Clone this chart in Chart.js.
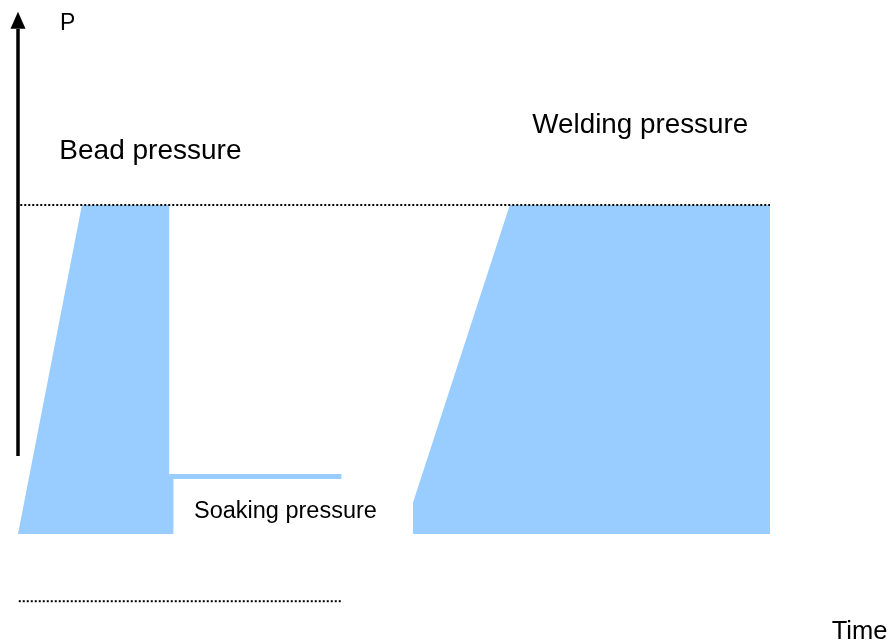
<!DOCTYPE html>
<html>
<head>
<meta charset="utf-8">
<script src="https://cdn.jsdelivr.net/npm/chart.js@4/dist/chart.umd.min.js"></script>
<style>
  html, body { margin: 0; padding: 0; background: #fff; }
  #wrap { width: 894px; height: 643px; }
</style>
</head>
<body>
<div id="wrap"><canvas id="pressureChart" width="894" height="643"></canvas></div>
<script>
// time in arbitrary units (0 = start, 100 = end of welding), pressure in % of welding pressure
var beadTime = [0, 8.5, 20.1, 20.1, 20.7, 20.7];
var beadPressure = [0, 100, 100, 17.5, 17.5, 0];
var soakTime = [20.1, 43];
var soakPressure = [17.5, 17.5];
var weldTime = [52.5, 52.5, 65.4, 100, 100];
var weldPressure = [0, 9.4, 100, 100, 0];
var refTime = [0.3, 100];
var refPressure = [100, 100];
var dragTime = [0.1, 43];
var dragPressure = [-20.4, -20.4];
var axisTime = [0, 0];
var axisPressure = [23.7, 153.5];
var axisTip = 158.7;

function pts(xs, ys) {
  return xs.map(function (x, i) { return { x: x, y: ys[i] }; });
}

// text placed in data coordinates (left edge, baseline)
var labels = [
  { text: 'P', x: 5.6, y: 153.1, size: 23 },
  { text: 'Bead pressure', x: 5.5, y: 113.9, size: 28 },
  { text: 'Welding pressure', x: 68.4, y: 121.8, size: 27.8 },
  { text: 'Soaking pressure', x: 23.4, y: 4.8, size: 23.5 },
  { text: 'Time', x: 108.2, y: -31.8, size: 25.5 }
];

var blue = '#99ccff';

var decor = {
  id: 'decor',
  afterDatasetsDraw: function (chart) {
    var ctx = chart.ctx;
    var xs = chart.scales.x, ys = chart.scales.y;
    // arrow head on the pressure axis
    var tx = xs.getPixelForValue(0), ty = ys.getPixelForValue(axisTip);
    ctx.save();
    ctx.fillStyle = '#000';
    ctx.beginPath();
    ctx.moveTo(tx, ty);
    ctx.lineTo(tx + 7.5, ty + 17);
    ctx.lineTo(tx - 7.5, ty + 17);
    ctx.closePath();
    ctx.fill();
    labels.forEach(function (l) {
      ctx.font = l.size + 'px "Liberation Sans", Arial, sans-serif';
      ctx.textBaseline = 'alphabetic';
      ctx.textAlign = 'left';
      ctx.fillText(l.text, xs.getPixelForValue(l.x), ys.getPixelForValue(l.y));
    });
    ctx.restore();
  }
};

new Chart(document.getElementById('pressureChart'), {
  type: 'scatter',
  data: {
    datasets: [
      { data: pts(refTime, refPressure), showLine: true, borderColor: '#000', borderWidth: 2, borderDash: [2, 2], pointRadius: 0, fill: false },
      { data: pts(dragTime, dragPressure), showLine: true, borderColor: '#000', borderWidth: 2, borderDash: [2, 2], pointRadius: 0, fill: false },
      { data: pts(axisTime, axisPressure), showLine: true, borderColor: '#000', borderWidth: 3.5, pointRadius: 0, fill: false },
      { data: pts(soakTime, soakPressure), showLine: true, borderColor: blue, borderWidth: 5, borderCapStyle: 'butt', pointRadius: 0, fill: false },
      { data: pts(beadTime, beadPressure), showLine: true, borderWidth: 0, borderColor: blue, backgroundColor: blue, pointRadius: 0, fill: 'origin' },
      { data: pts(weldTime, weldPressure), showLine: true, borderWidth: 0, borderColor: blue, backgroundColor: blue, pointRadius: 0, fill: 'origin' }
    ]
  },
  options: {
    responsive: false,
    animation: false,
    layout: { padding: 0 },
    plugins: { legend: { display: false }, tooltip: { enabled: false } },
    scales: {
      x: { type: 'linear', display: false, min: -2.394, max: 116.49 },
      y: { type: 'linear', display: false, min: -33.1, max: 162.3 }
    }
  },
  plugins: [decor]
});
</script>
</body>
</html>
